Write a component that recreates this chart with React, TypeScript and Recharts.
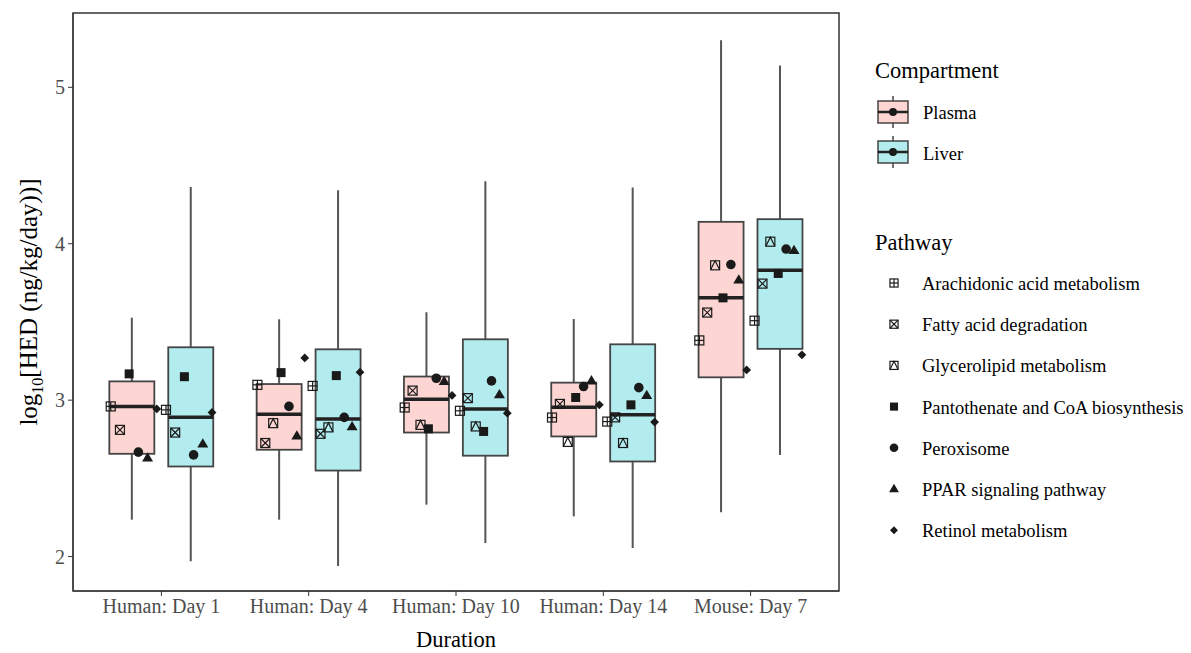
import { ComposedChart, Bar, Scatter, XAxis, YAxis, ReferenceArea } from "recharts";

const durations = ["Human: Day 1", "Human: Day 4", "Human: Day 10", "Human: Day 14", "Mouse: Day 7"];
const compartments = ["Plasma", "Liver"];
const pathways = [
  "Arachidonic acid metabolism",
  "Fatty acid degradation",
  "Glycerolipid metabolism",
  "Pantothenate and CoA biosynthesis",
  "Peroxisome",
  "PPAR signaling pathway",
  "Retinol metabolism",
];

// box statistics, one value per duration
const plasmaLower = [2.236, 2.236, 2.332, 2.257, 2.283];
const plasmaQ1 = [2.657, 2.683, 2.793, 2.768, 3.146];
const plasmaMedian = [2.96, 2.91, 3.006, 2.955, 3.654];
const plasmaQ3 = [3.12, 3.103, 3.151, 3.112, 4.14];
const plasmaUpper = [3.527, 3.517, 3.562, 3.519, 5.3];

const liverLower = [1.97, 1.94, 2.087, 2.055, 2.65];
const liverQ1 = [2.576, 2.55, 2.645, 2.608, 3.328];
const liverMedian = [2.89, 2.879, 2.943, 2.906, 3.83];
const liverQ3 = [3.338, 3.325, 3.389, 3.357, 4.157];
const liverUpper = [4.363, 4.342, 4.4, 4.36, 5.14];

// one row per pathway, one value per duration (null = not measured)
const plasmaPoints: (number | null)[][] = [
  [2.96, 3.098, 2.953, 2.889, 3.382],
  [2.81, 2.726, 3.061, 2.976, 3.56],
  [null, 2.853, 2.842, 2.733, 3.862],
  [3.168, 3.176, 2.817, 3.017, 3.654],
  [2.668, 2.96, 3.14, 3.087, 3.867],
  [2.63, 2.77, 3.119, 3.123, 3.768],
  [2.944, 3.27, 3.03, 2.97, 3.193],
];
const liverPoints: (number | null)[][] = [
  [2.938, 3.091, 2.932, 2.863, 3.508],
  [2.793, 2.785, 3.013, 2.89, 3.745],
  [null, 2.826, 2.832, 2.726, 4.013],
  [3.15, 3.157, 2.8, 2.97, 3.81],
  [2.65, 2.89, 3.123, 3.08, 3.966],
  [2.72, 2.83, 3.034, 3.03, 3.957],
  [2.921, 3.179, 2.917, 2.86, 3.29],
];

const yTicks = [2, 3, 4, 5];
const yDomain: [number, number] = [1.78, 5.475];

const FONT = '"Liberation Serif", "Times New Roman", serif';
const INK = "#1a1a1a";
const plasmaFill = "#FDD6D3";
const liverFill = "#B3ECEE";
const BOX_HALF = 22.5;

const boxRows = durations.flatMap((d, i) => [
  {
    x: i + 1 - 0.2,
    comp: "Plasma",
    whisker: [plasmaLower[i], plasmaUpper[i]],
    q1: plasmaQ1[i],
    median: plasmaMedian[i],
    q3: plasmaQ3[i],
  },
  {
    x: i + 1 + 0.2,
    comp: "Liver",
    whisker: [liverLower[i], liverUpper[i]],
    q1: liverQ1[i],
    median: liverMedian[i],
    q3: liverQ3[i],
  },
]);

// dodge points of every compartment/pathway group present at a duration
const pointSeries = pathways.map(() => [] as { x: number; y: number }[]);
durations.forEach((_, i) => {
  const groups: { k: number; v: number }[] = [];
  compartments.forEach((c) => {
    const src = c === "Plasma" ? plasmaPoints : liverPoints;
    pathways.forEach((_, k) => {
      const v = src[k][i];
      if (v != null) groups.push({ k, v });
    });
  });
  const step = 0.75 / groups.length;
  groups.forEach((g, j) => {
    pointSeries[g.k].push({ x: i + 1 - 0.375 + (j + 0.5) * step, y: g.v });
  });
});

function PathwaySymbol({ kind, cx, cy, s = 1 }: { kind: number; cx: number; cy: number; s?: number }) {
  const h = 4.5 * s;
  const sw = 1.2;
  const box = (
    <rect x={cx - h} y={cy - h} width={2 * h} height={2 * h} fill="none" stroke={INK} strokeWidth={sw} />
  );
  switch (kind) {
    case 0:
      return (
        <g>
          {box}
          <line x1={cx - h} x2={cx + h} y1={cy} y2={cy} stroke={INK} strokeWidth={sw} />
          <line x1={cx} x2={cx} y1={cy - h} y2={cy + h} stroke={INK} strokeWidth={sw} />
        </g>
      );
    case 1:
      return (
        <g>
          {box}
          <line x1={cx - h} x2={cx + h} y1={cy - h} y2={cy + h} stroke={INK} strokeWidth={sw} />
          <line x1={cx - h} x2={cx + h} y1={cy + h} y2={cy - h} stroke={INK} strokeWidth={sw} />
        </g>
      );
    case 2:
      return (
        <g>
          {box}
          <polyline
            points={`${cx - h},${cy + h} ${cx},${cy - h} ${cx + h},${cy + h}`}
            fill="none"
            stroke={INK}
            strokeWidth={sw}
          />
        </g>
      );
    case 3:
      return <rect x={cx - h} y={cy - h} width={2 * h} height={2 * h} fill={INK} />;
    case 4:
      return <circle cx={cx} cy={cy} r={4.8 * s} fill={INK} />;
    case 5: {
      const r = 5.8 * s;
      return (
        <polygon
          points={`${cx},${cy - r} ${cx + r * 0.95},${cy + r * 0.6} ${cx - r * 0.95},${cy + r * 0.6}`}
          fill={INK}
        />
      );
    }
    default: {
      const r = 4.4 * s;
      return (
        <polygon points={`${cx},${cy - r} ${cx + r},${cy} ${cx},${cy + r} ${cx - r},${cy}`} fill={INK} />
      );
    }
  }
}

function BoxShape(props: any) {
  const { x, y, width, height, payload } = props;
  const top = Math.min(y, y + height);
  const h = Math.abs(height);
  const [lo, hi] = payload.whisker;
  const py = (v: number) => top + ((hi - v) / (hi - lo)) * h;
  const cx = x + width / 2;
  const left = cx - BOX_HALF;
  const fill = payload.comp === "Plasma" ? plasmaFill : liverFill;
  return (
    <g>
      <line x1={cx} x2={cx} y1={top} y2={top + h} stroke="#555" strokeWidth={2} />
      <rect
        x={left}
        y={py(payload.q3)}
        width={BOX_HALF * 2}
        height={py(payload.q1) - py(payload.q3)}
        fill={fill}
        stroke="#444"
        strokeWidth={1.8}
      />
      <line
        x1={left}
        x2={left + BOX_HALF * 2}
        y1={py(payload.median)}
        y2={py(payload.median)}
        stroke="#222"
        strokeWidth={3.5}
      />
    </g>
  );
}

function CompartmentKey({ cx, cy, fill }: { cx: number; cy: number; fill: string }) {
  return (
    <g>
      <line x1={cx} x2={cx} y1={cy - 16} y2={cy + 16} stroke="#444" strokeWidth={1.5} />
      <rect x={cx - 15} y={cy - 11} width={30} height={22} fill={fill} stroke="#444" strokeWidth={1.5} />
      <line x1={cx - 15} x2={cx + 15} y1={cy} y2={cy} stroke="#222" strokeWidth={2.5} />
      <circle cx={cx} cy={cy} r={4} fill={INK} />
    </g>
  );
}

export default function App() {
  return (
    <div style={{ position: "relative", width: 1175, height: 645, fontFamily: FONT }}>
      <ComposedChart
        width={1175}
        height={645}
        data={boxRows}
        margin={{ top: 5, right: 344, bottom: 0, left: 0 }}
      >
        <XAxis
          type="number"
          dataKey="x"
          domain={[0.4, 5.6]}
          ticks={[1, 2, 3, 4, 5]}
          interval={0}
          allowDataOverflow
          tickFormatter={(v: number) => durations[Math.round(v) - 1]}
          height={62}
          tickSize={5}
          tickMargin={3}
          stroke="#333"
          tick={{ fill: "#4d4d4d", fontSize: 20, fontFamily: FONT }}
          label={{ value: "Duration", position: "insideBottom", offset: 6, fill: "#000", fontSize: 22.5, fontFamily: FONT }}
        />
        <YAxis
          type="number"
          domain={yDomain}
          ticks={yTicks}
          allowDataOverflow
          width={65}
          tickSize={5}
          tickMargin={3}
          stroke="#333"
          tick={{ fill: "#4d4d4d", fontSize: 20, fontFamily: FONT }}
        />
        <Bar dataKey="whisker" barSize={45} shape={BoxShape} isAnimationActive={false} />
        {pointSeries.map((data, k) => (
          <Scatter
            key={pathways[k]}
            name={pathways[k]}
            data={data}
            dataKey="y"
            isAnimationActive={false}
            shape={(p: any) => <PathwaySymbol kind={k} cx={p.cx} cy={p.cy} />}
          />
        ))}
        <ReferenceArea
          x1={0.4}
          x2={5.6}
          y1={yDomain[0]}
          y2={yDomain[1]}
          fill="none"
          stroke="#333"
          strokeWidth={1.5}
          ifOverflow="visible"
        />
      </ComposedChart>

      <div
        style={{
          position: "absolute",
          left: 23,
          top: 294,
          transform: "translate(-50%, -50%) rotate(-90deg)",
          whiteSpace: "nowrap",
          fontSize: 25,
          color: "#000",
        }}
      >
        log<sub style={{ fontSize: 16 }}>10</sub>[HED (ng/kg/day))]
      </div>

      <svg
        width={315}
        height={645}
        style={{ position: "absolute", left: 860, top: 0, fontFamily: FONT }}
      >
        <text x={7} y={62} fontSize={22.5} dominantBaseline="central" fill="#000">
          Compartment
        </text>
        {compartments.map((c, i) => (
          <g key={c}>
            <CompartmentKey cx={25} cy={104 + 40 * i} fill={i === 0 ? plasmaFill : liverFill} />
            <text x={55} y={105 + 41 * i} fontSize={18.5} dominantBaseline="central" fill="#000">
              {c}
            </text>
          </g>
        ))}
        <text x={7} y={234} fontSize={22.5} dominantBaseline="central" fill="#000">
          Pathway
        </text>
        {pathways.map((p, k) => (
          <g key={p}>
            <PathwaySymbol kind={k} cx={26} cy={275 + 41.2 * k} s={0.9} />
            <text x={54} y={276 + 41.2 * k} fontSize={18.5} dominantBaseline="central" fill="#000">
              {p}
            </text>
          </g>
        ))}
      </svg>
    </div>
  );
}
